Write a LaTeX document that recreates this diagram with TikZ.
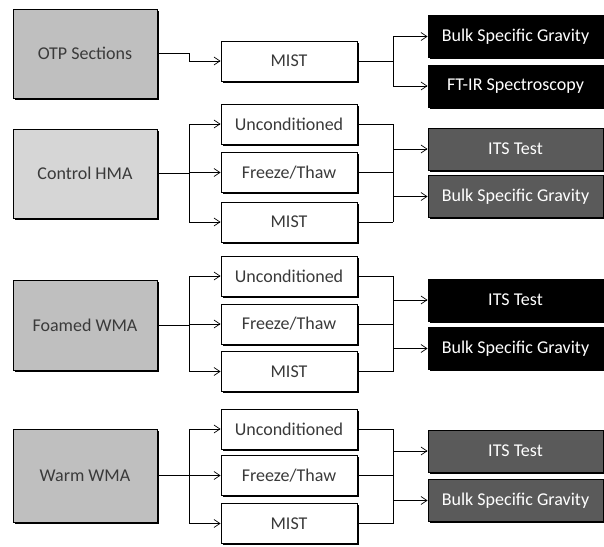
\documentclass[tikz,border=0pt]{standalone}
\usepackage{fontspec}
\setmainfont{Carlito}
\usetikzlibrary{arrows.meta,shadows}
\definecolor{leftgray}{HTML}{BFBFBF}
\definecolor{leftlight}{HTML}{D6D6D6}
\definecolor{rightmid}{HTML}{5A5A5A}
\definecolor{txtgray}{HTML}{3A3A3A}
\tikzset{
  base/.style={draw=black, line width=0.8pt, inner sep=0pt, align=center,
    font=\fontsize{18}{21}\selectfont,
    drop shadow={shadow xshift=1.6pt, shadow yshift=-1.6pt, opacity=1, fill=black}},
  leftbox/.style={base, fill=leftgray, text=txtgray, minimum width=144pt},
  leftlt/.style={leftbox, fill=leftlight},
  midbox/.style={base, fill=white, text=txtgray, minimum width=136pt, minimum height=40pt},
  rightbox/.style={base, fill=black, text=white, minimum width=175pt, minimum height=42pt},
  rightmid/.style={rightbox, fill=rightmid},
  conn/.style={draw=black, line width=0.7pt},
  arr/.style={conn, -{Straight Barb[length=6pt,width=8pt]}}
}
\begin{document}
\begin{tikzpicture}[x=1pt,y=-1pt]
\useasboundingbox (0,0) rectangle (604,546);
% left boxes
\node[leftbox, minimum height=89pt] (otp)  at (85,53.5)  {OTP Sections};
\node[leftlt,  minimum height=89pt] (ctrl) at (85,173.5) {Control HMA};
\node[leftbox, minimum height=90pt] (foam) at (85,325)   {Foamed WMA};
\node[leftbox, minimum height=93pt] (warm) at (85,475.5) {Warm WMA};
% middle boxes
\node[midbox] (m0) at (289,61) {MIST};
\node[midbox] (cu) at (289,124)   {Unconditioned};
\node[midbox] (cf) at (289,172.5) {Freeze/Thaw};
\node[midbox] (cm) at (289,222)   {MIST};
\node[midbox] (fu) at (289,276)   {Unconditioned};
\node[midbox] (ff) at (289,324)   {Freeze/Thaw};
\node[midbox] (fm) at (289,371.5) {MIST};
\node[midbox] (wu) at (289,429)   {Unconditioned};
\node[midbox] (wf) at (289,475.5) {Freeze/Thaw};
\node[midbox] (wm) at (289,523.5) {MIST};
% right boxes
\node[rightbox] (bsg0) at (515.5,36.5) {Bulk Specific Gravity};
\node[rightbox] (ftir) at (515.5,86)   {FT-IR Spectroscopy};
\node[rightmid] (cits) at (515.5,149)   {ITS Test};
\node[rightmid] (cbsg) at (515.5,196.5) {Bulk Specific Gravity};
\node[rightbox] (fits) at (515.5,300)   {ITS Test};
\node[rightbox] (fbsg) at (515.5,348.5) {Bulk Specific Gravity};
\node[rightmid] (wits) at (515.5,451)   {ITS Test};
\node[rightmid] (wbsg) at (515.5,500.5) {Bulk Specific Gravity};
% OTP group
\draw[arr] (otp.east) -- ++(32,0) coordinate (oj) |- (m0.west);
\draw[conn] (m0.east) -- ++(36,0) coordinate (or);
\draw[conn] (bsg0.west -| or) -- (ftir.west -| or);
\draw[arr] (bsg0.west -| or) -- (bsg0.west);
\draw[arr] (ftir.west -| or) -- (ftir.west);
% Control group
\draw[conn] (ctrl.east) -- ++(32,0) coordinate (cj);
\draw[arr] (cj) |- (cu.west);
\draw[arr] (cj) |- (cf.west);
\draw[arr] (cj) |- (cm.west);
\draw[conn] (cu.east) -- ++(36,0) coordinate (cru);
\draw[conn] (cf.east) -- ++(36,0);
\draw[conn] (cm.east) -- ++(36,0) coordinate (crm);
\draw[conn] (cru) -- (crm);
\draw[arr] (cits.west -| cru) -- (cits.west);
\draw[arr] (cbsg.west -| cru) -- (cbsg.west);
% Foamed group
\draw[conn] (foam.east) -- ++(32,0) coordinate (fj);
\draw[arr] (fj) |- (fu.west);
\draw[arr] (fj) |- (ff.west);
\draw[arr] (fj) |- (fm.west);
\draw[conn] (fu.east) -- ++(36,0) coordinate (fru);
\draw[conn] (ff.east) -- ++(36,0);
\draw[conn] (fm.east) -- ++(36,0) coordinate (frm);
\draw[conn] (fru) -- (frm);
\draw[arr] (fits.west -| fru) -- (fits.west);
\draw[arr] (fbsg.west -| fru) -- (fbsg.west);
% Warm group
\draw[conn] (warm.east) -- ++(32,0) coordinate (wj);
\draw[arr] (wj) |- (wu.west);
\draw[arr] (wj) |- (wf.west);
\draw[arr] (wj) |- (wm.west);
\draw[conn] (wu.east) -- ++(36,0) coordinate (wru);
\draw[conn] (wf.east) -- ++(36,0);
\draw[conn] (wm.east) -- ++(36,0) coordinate (wrm);
\draw[conn] (wru) -- (wrm);
\draw[arr] (wits.west -| wru) -- (wits.west);
\draw[arr] (wbsg.west -| wru) -- (wbsg.west);
\end{tikzpicture}
\end{document}
